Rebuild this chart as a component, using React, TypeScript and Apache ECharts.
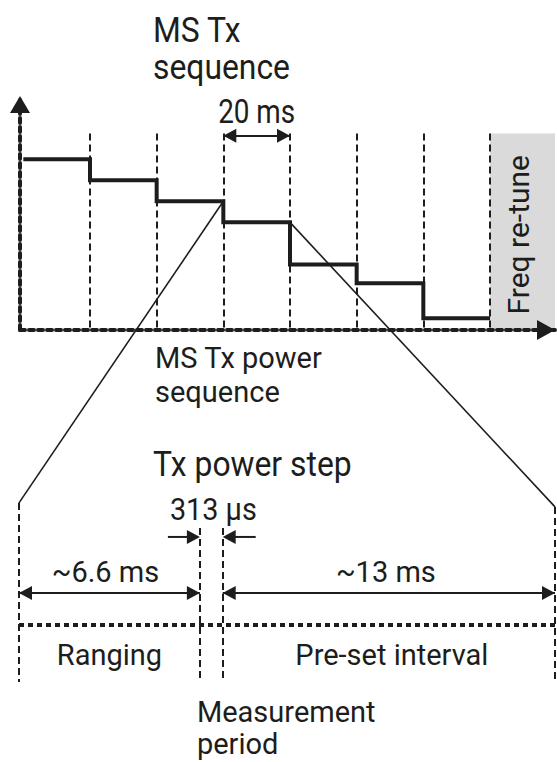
import React, { useEffect, useRef } from "react";
import * as echarts from "echarts";

// ---------- upper panel: MS Tx power sequence (x in ms, 20 ms slots; y relative power) ----------
const slotStartMs = [0, 20, 40, 60, 80, 100, 120, 140];
const txPowerLevel = [73, 64, 55, 46, 28, 20, 5, 5];
const slotBoundaryMs = [20, 40, 60, 80, 100, 120, 140];
const freqRetuneMs = [140, 159.5];
const slotTopLevel = 84;
const zoomedSlotMs = [60, 80];
const slotSpanLabel = "20 ms";
const upperTitle = ["MS Tx", "sequence"];
const upperCaption = ["MS Tx power", "sequence"];
const retuneLabel = "Freq re-tune";

// ---------- lower panel: Tx power step (schematic ms positions) ----------
const stepEdgeMs = [0, 6.75, 7.6, 20];
const stepSpanLabels = ["~6.6 ms", "~13 ms"];
const stepPhaseLabels = ["Ranging", "Pre-set interval"];
const gapLabel = "313 µs";
const measurementLabel = ["Measurement", "period"];
const lowerTitle = "Tx power step";

const INK = "#1d1d1b";
const GREY = "#dadada";
const FONT = "Roboto, 'Liberation Sans', Arial, sans-serif";

export default function App() {
  const ref = useRef<HTMLDivElement>(null);

  useEffect(() => {
    document.body.style.margin = "0";
    const chart = echarts.init(ref.current!, null, { renderer: "svg" });

    const dashedThin = { color: INK, width: 2, type: [7, 4] as number[] };
    const dashedThick = { color: INK, width: 4, type: [5, 4] as number[] };
    const arrowLine = { color: INK, width: 2, type: "solid" };
    const head = [14, 13]; // [width across, length along]

    // lower panel layout levels (0..100 scale of lower grid)
    const outerTop = [98.4, 96.2];
    const innerTop = 84.6;
    const spanArrowY = 48.9;
    const phaseLineY = 31.3;
    const gapArrowY = 79.7;
    const arrowY = 83;

    const markSeries = (xi: number, extra: any) => ({
      type: "line",
      xAxisIndex: xi,
      yAxisIndex: xi,
      data: [],
      silent: true,
      clip: false,
      ...extra,
    });

    const option: any = {
      animation: false,
      grid: [
        { left: 20, right: 2, top: 96, height: 234 },
        { left: 19, right: 2, top: 500, height: 182 },
      ],
      xAxis: [
        {
          gridIndex: 0,
          type: "value",
          min: -1,
          max: freqRetuneMs[1],
          axisLine: {
            show: true,
            onZero: false,
            symbol: ["none", "triangle"],
            symbolSize: [20, 18],
            symbolOffset: [0, -9],
            lineStyle: dashedThick,
          },
          axisTick: { show: false },
          axisLabel: { show: false },
          splitLine: { show: false },
        },
        { gridIndex: 1, type: "value", min: stepEdgeMs[0], max: stepEdgeMs[3], show: false },
      ],
      yAxis: [
        {
          gridIndex: 0,
          type: "value",
          min: 0,
          max: 100,
          axisLine: {
            show: true,
            onZero: false,
            symbol: ["none", "triangle"],
            symbolSize: [20, 17],
            symbolOffset: [0, -8.5],
            lineStyle: dashedThick,
          },
          axisTick: { show: false },
          axisLabel: { show: false },
          splitLine: { show: false },
        },
        { gridIndex: 1, type: "value", min: 0, max: 100, show: false },
      ],
      series: [
        markSeries(0, {
          z: -1,
          markArea: {
            silent: true,
            z: -1,
            itemStyle: { color: GREY },
            label: { show: false },
            data: [[{ coord: [freqRetuneMs[0], 0] }, { coord: [freqRetuneMs[1], slotTopLevel] }]],
          },
        }),
        markSeries(0, {
          markLine: {
            silent: true,
            symbol: ["none", "none"],
            label: { show: false },
            lineStyle: dashedThin,
            data: slotBoundaryMs.map((x) => [{ coord: [x, slotTopLevel] }, { coord: [x, 0] }]),
          },
        }),
        {
          type: "line",
          step: "end",
          xAxisIndex: 0,
          yAxisIndex: 0,
          silent: true,
          clip: false,
          z: 3,
          symbol: "none",
          data: slotStartMs.map((x, i) => [x, txPowerLevel[i]]),
          lineStyle: { color: INK, width: 4, join: "miter", cap: "butt" },
          markLine: {
            silent: true,
            symbol: ["none", "none"],
            label: { show: false },
            lineStyle: arrowLine,
            data: [[{ coord: [zoomedSlotMs[0], arrowY] }, { coord: [zoomedSlotMs[1], arrowY] }]],
          },
        },
        markSeries(1, {
          markLine: {
            silent: true,
            symbol: ["none", "none"],
            label: { show: false },
            lineStyle: dashedThin,
            data: [
              [{ coord: [stepEdgeMs[0], outerTop[0]] }, { coord: [stepEdgeMs[0], 0] }],
              [{ coord: [stepEdgeMs[1], innerTop] }, { coord: [stepEdgeMs[1], 0] }],
              [{ coord: [stepEdgeMs[2], innerTop] }, { coord: [stepEdgeMs[2], 0] }],
              [{ coord: [stepEdgeMs[3], outerTop[1]] }, { coord: [stepEdgeMs[3], 0] }],
            ],
          },
        }),
        markSeries(1, {
          markLine: {
            silent: true,
            symbol: ["none", "none"],
            label: { show: false },
            lineStyle: dashedThick,
            data: [[{ coord: [stepEdgeMs[0], phaseLineY] }, { coord: [stepEdgeMs[3], phaseLineY] }]],
          },
        }),
        markSeries(1, {
          markLine: {
            silent: true,
            symbol: ["none", "none"],
            label: { show: false },
            lineStyle: arrowLine,
            data: [
              [{ coord: [stepEdgeMs[0], spanArrowY] }, { coord: [stepEdgeMs[1], spanArrowY] }],
              [{ coord: [stepEdgeMs[2], spanArrowY] }, { coord: [stepEdgeMs[3], spanArrowY] }],
            ],
          },
        }),
      ],
    };

    chart.setOption(option);

    const top = (x: number, y: number) =>
      chart.convertToPixel({ xAxisIndex: 0, yAxisIndex: 0 } as any, [x, y]) as number[];
    const bot = (x: number, y: number) =>
      chart.convertToPixel({ xAxisIndex: 1, yAxisIndex: 1 } as any, [x, y]) as number[];

    const txt = (
      text: string,
      x: number,
      y: number,
      size: number,
      align = "left",
      extra: any = {}
    ) => ({
      type: "text",
      x,
      y,
      silent: true,
      z: 10,
      ...extra,
      style: { text, fill: INK, fontSize: size, fontFamily: FONT, align, verticalAlign: "middle" },
    });
    const seg = (a: number[], b: number[], w: number) => ({
      type: "line",
      silent: true,
      z: 10,
      shape: { x1: a[0], y1: a[1], x2: b[0], y2: b[1] },
      style: { stroke: INK, lineWidth: w },
    });
    // filled arrow head; dir = 1 points right, -1 points left
    const tri = (tip: number[], dir: number) => ({
      type: "polygon",
      silent: true,
      z: 10,
      shape: {
        points: [
          [tip[0], tip[1]],
          [tip[0] - dir * head[1], tip[1] - head[0] / 2],
          [tip[0] - dir * head[1], tip[1] + head[0] / 2],
        ],
      },
      style: { fill: INK },
    });

    const zi = slotStartMs.indexOf(zoomedSlotMs[0]);
    const leftTop = top(zoomedSlotMs[0], txPowerLevel[zi - 1]);
    const rightTop = top(zoomedSlotMs[1], txPowerLevel[zi]);
    const leftBot = bot(stepEdgeMs[0], outerTop[0]);
    const rightBot = bot(stepEdgeMs[3], outerTop[1]);

    const arrowA = top(zoomedSlotMs[0], arrowY);
    const arrowB = top(zoomedSlotMs[1], arrowY);
    const slotMid = top((zoomedSlotMs[0] + zoomedSlotMs[1]) / 2, arrowY);
    const retune = top((freqRetuneMs[0] + freqRetuneMs[1]) / 2, slotTopLevel / 2);

    const gapL = bot(stepEdgeMs[1], gapArrowY);
    const gapR = bot(stepEdgeMs[2], gapArrowY);
    const span0 = bot(stepEdgeMs[0], spanArrowY);
    const span1 = bot(stepEdgeMs[1], spanArrowY);
    const span2 = bot(stepEdgeMs[2], spanArrowY);
    const span3 = bot(stepEdgeMs[3], spanArrowY);
    const spanL = bot((stepEdgeMs[0] + stepEdgeMs[1]) / 2, spanArrowY);
    const spanR = bot((stepEdgeMs[2] + stepEdgeMs[3]) / 2, spanArrowY);
    const phaseL = bot((stepEdgeMs[0] + stepEdgeMs[1]) / 2, phaseLineY);
    const phaseR = bot((stepEdgeMs[2] + stepEdgeMs[3]) / 2, phaseLineY);

    const tall = { scaleX: 0.91 };

    chart.setOption({
      graphic: [
        seg(leftTop, leftBot, 1.6),
        seg(rightTop, rightBot, 1.6),
        // 20 ms double arrow heads
        tri(arrowA, -1),
        tri(arrowB, 1),
        // span double arrow heads
        tri(span0, -1),
        tri(span1, 1),
        tri(span2, -1),
        tri(span3, 1),
        // 313 us pointer arrows
        seg([gapL[0] - 32, gapL[1]], [gapL[0] - 10, gapL[1]], 2),
        tri(gapL, 1),
        seg([gapR[0] + 33, gapR[1]], [gapR[0] + 10, gapR[1]], 2),
        tri(gapR, -1),
        // texts
        txt(upperTitle[0], 153, 30, 35, "left", tall),
        txt(upperTitle[1], 153, 67, 35, "left", tall),
        txt(slotSpanLabel, slotMid[0], arrowA[1] - 24.5, 34, "center", { scaleX: 0.82 }),
        txt(retuneLabel, retune[0] - 4, retune[1] + 3, 30, "center", { rotation: Math.PI / 2 }),
        txt(upperCaption[0], 155, 358, 29),
        txt(upperCaption[1], 155, 392, 29),
        txt(lowerTitle, 153, 464, 35, "left", tall),
        txt(gapLabel, gapL[0] - 30, 509, 32, "left", { scaleX: 0.9 }),
        txt(stepSpanLabels[0], spanL[0] - 4, spanL[1] - 21, 29, "center"),
        txt(stepSpanLabels[1], spanR[0] - 3, spanR[1] - 21, 29, "center"),
        txt(stepPhaseLabels[0], phaseL[0], phaseL[1] + 30, 29, "center"),
        txt(stepPhaseLabels[1], phaseR[0] + 3, phaseR[1] + 30, 29, "center"),
        txt(measurementLabel[0], gapL[0] - 3, 712, 29),
        txt(measurementLabel[1], gapL[0] - 3, 744, 29),
      ],
    });

    return () => chart.dispose();
  }, []);

  return <div ref={ref} style={{ width: 557, height: 762 }} />;
}
